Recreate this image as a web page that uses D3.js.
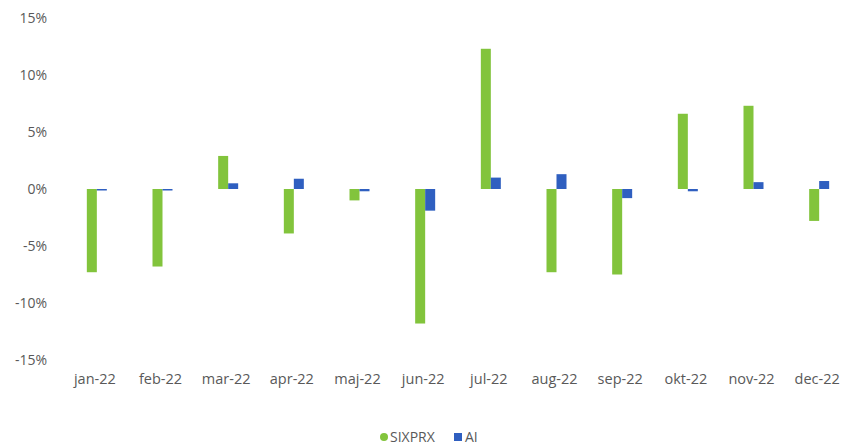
<!DOCTYPE html>
<html>
<head>
<meta charset="utf-8">
<script src="https://cdn.jsdelivr.net/npm/d3@7"></script>
<style>
  body { margin: 0; background: #fff; }
  text { font-family: "Open Sans", sans-serif; fill: #595959; }
</style>
</head>
<body>
<svg id="chart"></svg>
<script>
// monthly returns (%)
const months = ["jan-22", "feb-22", "mar-22", "apr-22", "maj-22", "jun-22",
                "jul-22", "aug-22", "sep-22", "okt-22", "nov-22", "dec-22"];
const sixprx = [-7.3, -6.8, 2.9, -3.9, -1.0, -11.8, 12.3, -7.3, -7.5, 6.6, 7.3, -2.8];
const ai     = [-0.1, -0.1, 0.5, 0.9, -0.2, -1.9, 1.0, 1.3, -0.8, -0.2, 0.6, 0.7];
const yTicks = [-15, -10, -5, 0, 5, 10, 15];
const seriesNames = ["SIXPRX", "AI"];
const colors = ["#82c43c", "#2f5fc0"];

function main() {
    const width = 841, height = 446;
    const svg = d3.select("svg#chart")
        .attr("width", width)
        .attr("height", height);

    const x = d3.scaleBand().domain(months).range([62, 850]);
    const y = d3.scaleLinear().domain([-15, 15]).range([360, 18]);
    const barW = 10;
    const barShift = 2; // bars sit a little right of the label centre

    // y axis labels only, no lines
    const yAxis = svg.append("g")
        .attr("transform", "translate(47,0)")
        .call(d3.axisLeft(y).tickValues(yTicks).tickSize(0).tickPadding(0)
            .tickFormat(d => d + "%"));
    yAxis.select(".domain").remove();
    yAxis.selectAll("text").attr("font-size", 14).attr("font-family", "Open Sans, sans-serif").attr("fill", "#595959");

    const xAxis = svg.append("g")
        .attr("transform", "translate(0,374)")
        .call(d3.axisBottom(x).tickSize(0).tickPadding(0));
    xAxis.select(".domain").remove();
    xAxis.selectAll("text").attr("font-size", 14.5).attr("font-family", "Open Sans, sans-serif").attr("fill", "#595959");

    [sixprx, ai].forEach((vals, si) => {
        svg.append("g").selectAll("rect")
            .data(vals)
            .join("rect")
            .attr("x", (d, i) => x(months[i]) + x.bandwidth() / 2 - barW + si * barW + barShift)
            .attr("y", d => y(Math.max(0, d)))
            .attr("width", barW)
            .attr("height", d => Math.max(1.5, Math.abs(y(d) - y(0))))
            .attr("fill", colors[si]);
    });

    // legend
    const leg = svg.append("g").attr("transform", "translate(379,437)");
    leg.append("circle").attr("cx", 5).attr("cy", 0).attr("r", 4).attr("fill", colors[0]);
    leg.append("text").attr("x", 11).attr("y", 5).attr("font-size", 14).text(seriesNames[0]);
    leg.append("rect").attr("x", 75).attr("y", -4).attr("width", 8).attr("height", 8).attr("fill", colors[1]);
    leg.append("text").attr("x", 86).attr("y", 5).attr("font-size", 14).text(seriesNames[1]);
}

main()
</script>
</body>
</html>
